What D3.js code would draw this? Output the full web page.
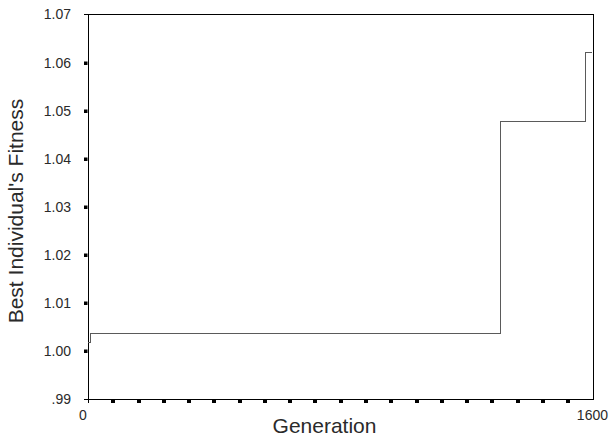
<!DOCTYPE html>
<html>
<head>
<style type="text/css">
body { margin: 0; background: #fff; }
text { font-family: Arial, "Liberation Sans", sans-serif; fill: #2a2a2a; }
.tick text { font-size: 14px; }
.title { font-size: 21px; }
.frame { stroke: #000; stroke-width: 1; fill: none; shape-rendering: crispEdges; }
.step { stroke: #5a5a5a; stroke-width: 1; fill: none; shape-rendering: crispEdges; }
</style>
<script src="https://d3js.org/d3.v7.min.js"></script>
</head>
<body>
<script type="text/javascript">
var width = 609;
var height = 439;

// best fitness found, stepping up at these generations
var generations = [0, 8, 1307, 1575, 1596];
var fitness = [1.0019, 1.0038, 1.0478, 1.0621, 1.0621];

var yTicks = [0.99, 1.00, 1.01, 1.02, 1.03, 1.04, 1.05, 1.06, 1.07];
var yTickLabels = [".99", "1.00", "1.01", "1.02", "1.03", "1.04", "1.05", "1.06", "1.07"];
var xMinorTicks = d3.range(80, 1600, 80);
var xTickLabels = ["0", "1600"];

var x = d3.scaleLinear().domain([0, 1600]).range([88, 593.5]);
var y = d3.scaleLinear().domain([0.99, 1.07]).range([399.5, 14.5]);

var svg = d3.select("body").append("svg").attr("width", width).attr("height", height);

// y axis labels
var yAxis = d3.axisLeft(y)
	.tickValues(yTicks)
	.tickSize(0)
	.tickPadding(17)
	.tickFormat(function(d, i) { return yTickLabels[i]; });
var gy = svg.append("g").attr("transform", "translate(88,0)").call(yAxis);
gy.select(".domain").remove();
gy.attr("font-family", null).attr("font-size", null);

// y tick squares (interior), dashes at the ends
svg.selectAll(".ysq").data(yTicks.slice(1, -1)).enter().append("rect")
	.attr("x", 84).attr("y", function(d) { return Math.round(y(d)) - 1.5; })
	.attr("width", 3.5).attr("height", 3.5).attr("fill", "#000");
svg.selectAll(".ydash").data([yTicks[0], yTicks[yTicks.length - 1]]).enter().append("line")
	.attr("x1", 83.5).attr("x2", 88)
	.attr("y1", function(d) { return y(d); }).attr("y2", function(d) { return y(d); })
	.attr("stroke", "#000").attr("shape-rendering", "crispEdges");

// x tick squares
svg.selectAll(".xsq").data(xMinorTicks).enter().append("rect")
	.attr("x", function(d) { return Math.round(x(d)) - 2; }).attr("y", 400)
	.attr("width", 4).attr("height", 3).attr("fill", "#000");
svg.append("line").attr("x1", x(0)).attr("x2", x(0)).attr("y1", 399.5).attr("y2", 403)
	.attr("stroke", "#000").attr("shape-rendering", "crispEdges");

// x labels
svg.append("text")
	.attr("x", x(0) - 5).attr("y", 420).attr("text-anchor", "middle")
	.style("font-size", "14px").text(xTickLabels[0]);
svg.append("text")
	.attr("x", x(1600) + 14.5).attr("y", 420).attr("text-anchor", "end")
	.style("font-size", "14px").text(xTickLabels[1]);

// frame
svg.append("rect").attr("class", "frame")
	.attr("x", x(0)).attr("y", y(1.07))
	.attr("width", x(1600) - x(0)).attr("height", y(0.99) - y(1.07));

// step line
var line = d3.line()
	.x(function(d) { return x(d[0]); })
	.y(function(d) { return y(d[1]); })
	.curve(d3.curveStepAfter);
svg.append("path").attr("class", "step")
	.datum(d3.zip(generations, fitness))
	.attr("d", line);

// titles
svg.append("text").attr("class", "title")
	.attr("x", 324.5).attr("y", 433).attr("text-anchor", "middle")
	.text("Generation");
svg.append("text").attr("class", "title")
	.attr("transform", "translate(23,211) rotate(-90)").attr("text-anchor", "middle")
	.text("Best Individual's Fitness");
</script>
</body>
</html>
